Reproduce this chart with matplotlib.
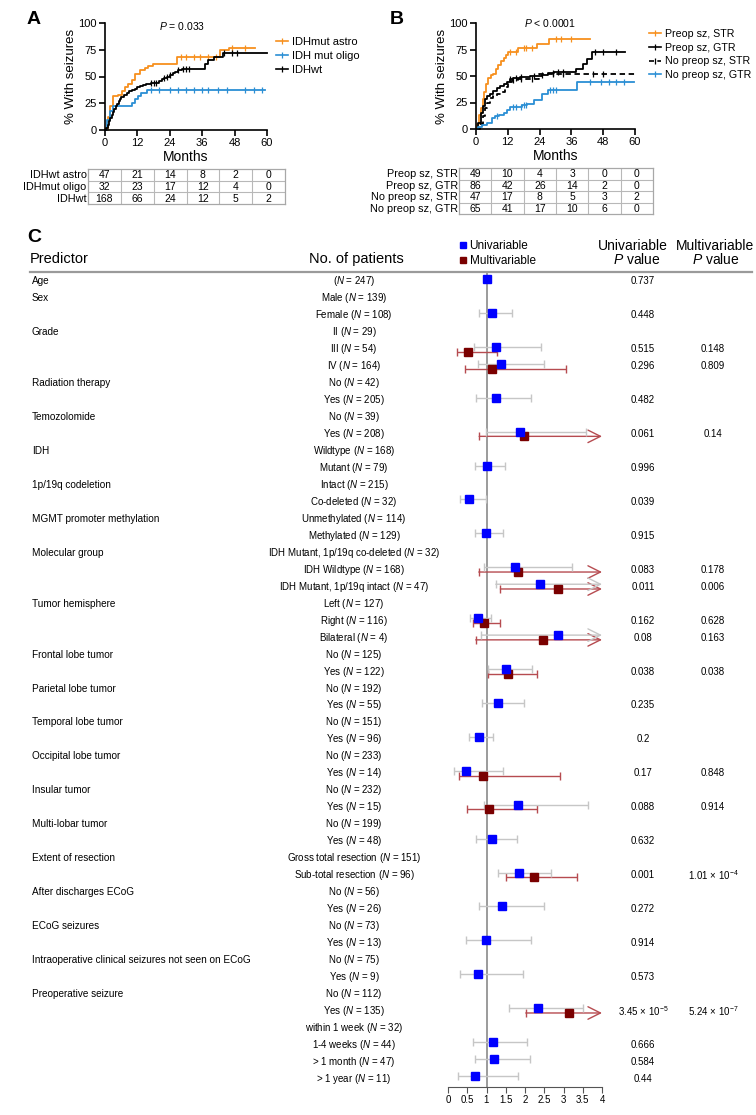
import numpy as np
import matplotlib
matplotlib.use('Agg')
import matplotlib.pyplot as plt
import matplotlib.transforms as mtransforms
from matplotlib.lines import Line2D

plt.rcParams['font.family'] = ['Liberation Sans', 'DejaVu Sans']
plt.rcParams['mathtext.fontset'] = 'custom'
plt.rcParams['mathtext.rm'] = 'Liberation Sans'
plt.rcParams['mathtext.it'] = 'Liberation Sans:italic'
plt.rcParams['mathtext.bf'] = 'Liberation Sans:bold'

# ---------------- panel A data (cumulative % with seizures, step curves) ----------------
astro_t = [0, 1.2, 1.8, 3.1, 4.9, 6.2, 7.4, 8.6, 9.9, 11.1, 12.9, 14.8, 15.8, 17.9, 26.7, 42.7, 46, 55.4]
astro_y = [0, 12, 22, 32, 33, 36, 40, 43, 47, 52, 56, 58, 60, 62, 68, 75, 76.5, 76.5]
astro_cens = [28, 30, 33, 35, 38, 41, 47, 52]

oligo_t = [0, 0.6, 1.8, 3.1, 9.9, 11.1, 12.3, 13.5, 15.4, 59.4]
oligo_y = [0, 9, 18, 22, 25.5, 29, 32, 35, 37.5, 37.5]
oligo_cens = [17, 20, 24, 27, 30, 33, 36, 38, 42, 45, 52, 55, 58]

wt_t = [0, 0.5, 1, 1.5, 2, 2.5, 3, 3.5, 4, 4.5, 5, 5.5, 6, 7, 8, 9, 10, 11, 12, 13, 14, 15, 17, 19,
        20, 21, 22, 23, 24, 25, 26, 27, 28.5, 36.9, 38, 40.4, 43.7, 60]
wt_y = [0, 2, 5, 8, 11, 14, 17, 20, 22, 24, 27, 29, 31, 33, 35, 36, 37.5, 38.5, 40, 41, 42, 43, 43.5, 44,
        46, 48, 49, 50, 51, 53, 54, 56, 57, 62, 65, 68, 72, 72]
wt_cens = [17, 18, 19, 22, 23, 24, 27, 29, 30, 31, 44, 47, 49]

a_labels = ['IDHmut astro', 'IDH mut oligo', 'IDHwt']
a_table_rows = ['IDHwt astro', 'IDHmut oligo', 'IDHwt']
a_table = [[47, 21, 14, 8, 2, 0],
           [32, 23, 17, 12, 4, 0],
           [168, 66, 24, 12, 5, 2]]

# ---------------- panel B data ----------------
pre_str_t = [0, 0.5, 1.3, 1.9, 2.5, 3.2, 3.8, 4.4, 5.7, 6.6, 7.6, 8.2, 9.5, 10.4, 11.2, 11.9, 15.8, 23, 27.4, 42.9]
pre_str_y = [0, 5, 13, 20, 28, 35, 42, 48, 51, 52, 57, 60, 64, 67, 70, 73, 76, 80, 85, 85]
pre_str_cens = [13, 15, 18, 19, 21, 30, 32, 36]

pre_gtr_t = [0, 0.9, 1.9, 2.5, 3.4, 4.0, 5.3, 6.3, 7.8, 9.1, 10.4, 11.6, 12.9, 14.1, 16.7, 20.5, 24.9, 27.0,
             29.3, 37.9, 40.4, 41.9, 43.8, 56.4]
pre_gtr_y = [0, 6, 15, 22, 28, 31, 33, 36, 39, 41, 42, 44, 47, 48, 49, 50, 51, 53, 54, 57, 61, 66, 73, 73]
pre_gtr_cens = [13, 15, 17, 22, 25, 29, 31, 33, 45, 48, 53]

np_str_t = [0, 1.5, 2.5, 3.4, 4.0, 5.3, 6.6, 7.8, 9.7, 11, 12.2, 13.5, 16, 23.6, 60]
np_str_y = [0, 5, 12, 20, 25, 29, 31, 33, 35, 40, 44, 46, 47, 52, 52]
np_str_cens = [14, 17, 21, 29, 33, 44, 48]

np_gtr_t = [0, 0.9, 2.1, 4.0, 5.9, 7.2, 8.8, 10.4, 11.6, 12.9, 17.3, 19.2, 21.7, 24.9, 27, 38.1, 59.8]
np_gtr_y = [0, 2, 4, 6, 10, 12, 13, 15, 18, 21, 23, 24, 27, 33, 37, 44, 44]
np_gtr_cens = [8, 14, 15, 17, 18, 19, 28, 29, 30, 43, 47, 50, 53, 56]

b_labels = ['Preop sz, STR', 'Preop sz, GTR', 'No preop sz, STR', 'No preop sz, GTR']
b_table = [[49, 10, 4, 3, 0, 0],
           [86, 42, 26, 14, 2, 0],
           [47, 17, 8, 5, 3, 2],
           [65, 41, 17, 10, 6, 0]]

# ---------------- panel C data (hazard ratios) ----------------
nan = np.nan
inf = np.inf
predictors = ['Age', 'Sex', '', 'Grade', '', '', 'Radiation therapy', '', 'Temozolomide', '',
              'IDH', '', '1p/19q codeletion', '', 'MGMT promoter methylation', '',
              'Molecular group', '', '', 'Tumor hemisphere', '', '',
              'Frontal lobe tumor', '', 'Parietal lobe tumor', '', 'Temporal lobe tumor', '',
              'Occipital lobe tumor', '', 'Insular tumor', '', 'Multi-lobar tumor', '',
              'Extent of resection', '', 'After discharges ECoG', '', 'ECoG seizures', '',
              'Intraoperative clinical seizures not seen on ECoG', '', 'Preoperative seizure', '',
              '', '', '', '']
levels = ['', 'Male', 'Female', 'II', 'III', 'IV', 'No', 'Yes', 'No', 'Yes',
          'Wildtype', 'Mutant', 'Intact', 'Co-deleted', 'Unmethylated', 'Methylated',
          'IDH Mutant, 1p/19q co-deleted', 'IDH Wildtype', 'IDH Mutant, 1p/19q intact',
          'Left', 'Right', 'Bilateral', 'No', 'Yes', 'No', 'Yes', 'No', 'Yes', 'No', 'Yes',
          'No', 'Yes', 'No', 'Yes', 'Gross total resection', 'Sub-total resection',
          'No', 'Yes', 'No', 'Yes', 'No', 'Yes', 'No', 'Yes',
          'within 1 week', '1-4 weeks', '> 1 month', '> 1 year']
n_patients = [247, 139, 108, 29, 54, 164, 42, 205, 39, 208, 168, 79, 215, 32, 114, 129,
              32, 168, 47, 127, 116, 4, 125, 122, 192, 55, 151, 96, 233, 14, 232, 15, 199, 48,
              151, 96, 56, 26, 73, 13, 75, 9, 112, 135, 32, 44, 47, 11]
uni_hr = [1.01, nan, 1.15, nan, 1.25, 1.37, nan, 1.24, nan, 1.88, nan, 1.01, nan, 0.545, nan, 0.99,
          nan, 1.74, 2.39, nan, 0.79, 2.85, nan, 1.50, nan, 1.31, nan, 0.80, nan, 0.47, nan, 1.83,
          nan, 1.13, nan, 1.85, nan, 1.40, nan, 0.98, nan, 0.79, nan, 2.35, nan, 1.16, 1.20, 0.70]
uni_lo = [nan, nan, 0.81, nan, 0.68, 0.78, nan, 0.72, nan, 0.98, nan, 0.70, nan, 0.31, nan, 0.69,
          nan, 0.94, 1.24, nan, 0.57, 0.87, nan, 1.03, nan, 0.875, nan, 0.55, nan, 0.16, nan, 0.935,
          nan, 0.74, nan, 1.29, nan, 0.81, nan, 0.46, nan, 0.32, nan, 1.58, nan, 0.64, 0.70, 0.27]
uni_hi = [nan, nan, 1.65, nan, 2.41, 2.49, nan, 2.15, nan, 3.58, nan, 1.49, nan, 0.99, nan, 1.44,
          nan, 3.23, inf, nan, 1.12, inf, nan, 2.17, nan, 1.97, nan, 1.16, nan, 1.44, nan, 3.63,
          nan, 1.78, nan, 2.68, nan, 2.49, nan, 2.15, nan, 1.96, nan, 3.51, nan, 2.06, 2.13, 1.83]
multi_hr = {4: 0.53, 5: 1.13, 9: 1.97, 17: 1.81, 18: 2.87, 20: 0.935, 21: 2.48, 23: 1.56,
            29: 0.91, 31: 1.06, 35: 2.23, 43: 3.13}
multi_lo = {4: 0.225, 5: 0.44, 9: 0.81, 17: 0.80, 18: 1.36, 20: 0.64, 21: 0.72, 23: 1.03,
            29: 0.29, 31: 0.50, 35: 1.51, 43: 2.02}
multi_hi = {4: 1.28, 5: 3.07, 9: inf, 17: inf, 18: inf, 20: 1.35, 21: inf, 23: 2.31,
            29: 2.92, 31: 2.31, 35: 3.36, 43: inf}
p_uni = {0: '0.737', 2: '0.448', 4: '0.515', 5: '0.296', 7: '0.482', 9: '0.061', 11: '0.996',
         13: '0.039', 15: '0.915', 17: '0.083', 18: '0.011', 20: '0.162', 21: '0.08', 23: '0.038',
         25: '0.235', 27: '0.2', 29: '0.17', 31: '0.088', 33: '0.632', 35: '0.001', 37: '0.272',
         39: '0.914', 41: '0.573', 43: r'3.45 × 10$^{-5}$', 45: '0.666', 46: '0.584', 47: '0.44'}
p_multi = {4: '0.148', 5: '0.809', 9: '0.14', 17: '0.178', 18: '0.006', 20: '0.628', 21: '0.163',
           23: '0.038', 29: '0.848', 31: '0.914', 35: r'1.01 × 10$^{-4}$', 43: r'5.24 × 10$^{-7}$'}
hr_ticks = [0, 0.5, 1, 1.5, 2, 2.5, 3, 3.5, 4]

ORANGE = '#f7901e'
LBLUE = '#2b8fd4'
GRAY_CI = '#c6c6c6'
RED_CI = '#b64b50'
RED_SQ = '#7a0000'
BLUE_SQ = '#0000ff'

W, H = 756, 1115
fig = plt.figure(figsize=(W / 100, H / 100), dpi=100)


def px_axes(x0, y0, x1, y1):
    return fig.add_axes([x0 / W, 1 - y1 / H, (x1 - x0) / W, (y1 - y0) / H])


def step_at(t, y, x):
    idx = np.searchsorted(t, x, side='right') - 1
    return np.asarray(y)[idx]


def km_panel(box, curves, labels, ptext, px, py, leg_xy, leg_fs):
    ax = px_axes(*box)
    ax.patch.set_visible(False)
    handles = []
    for (t, y, cens, color, ls) in curves:
        ax.step(t, y, where='post', color=color, lw=1.3, ls=ls, clip_on=False)
        ax.plot(cens, step_at(t, y, cens), ls='', marker='|', ms=4, mew=0.9, color=color, clip_on=False)
        handles.append(Line2D([0], [0], color=color, lw=1.2, ls=ls, marker='|', ms=4, mew=0.9))
    ax.set_xlim(0, 60)
    ax.set_ylim(0, 100)
    ax.set_xticks([0, 12, 24, 36, 48, 60])
    ax.set_yticks([0, 25, 50, 75, 100])
    for s in ['top', 'right']:
        ax.spines[s].set_visible(False)
    for s in ['left', 'bottom']:
        ax.spines[s].set_linewidth(1.2)
    ax.tick_params(width=1.2, length=4, labelsize=8, pad=2)
    ax.set_xlabel('Months', fontsize=10, labelpad=1)
    ax.set_ylabel('% With seizures', fontsize=9.5, labelpad=1)
    ax.text(px, py, ptext, fontsize=7.5, ha='center', va='center')
    fig.legend(handles, labels, loc='upper left', bbox_to_anchor=(leg_xy[0] / W, 1 - leg_xy[1] / H),
               frameon=False, fontsize=leg_fs, handlelength=1.1, handletextpad=0.35, labelspacing=0.35,
               borderpad=0, borderaxespad=0)
    return ax


def table_panel(box, row_labels, counts):
    ax = px_axes(*box)
    n = len(row_labels)
    ax.set_xlim(0, 6)
    ax.set_ylim(n, 0)
    ax.set_xticks([])
    ax.set_yticks([])
    for s in ax.spines.values():
        s.set_color('#a8a8a8')
        s.set_linewidth(0.9)
    ax.vlines(range(1, 6), 0, n, color='#b8b8b8', lw=0.8)
    ax.hlines(range(1, n), 0, 6, color='#b8b8b8', lw=0.8)
    for r, (lab, row) in enumerate(zip(row_labels, counts)):
        ax.text(-0.04, r + 0.55, lab, ha='right', va='center', fontsize=7.8)
        for c, v in enumerate(row):
            ax.text(c + 0.5, r + 0.55, str(v), ha='center', va='center', fontsize=7.5)


# ---------------- A ----------------
km_panel((105, 23, 267, 130),
         [(astro_t, astro_y, astro_cens, ORANGE, '-'),
          (oligo_t, oligo_y, oligo_cens, LBLUE, '-'),
          (wt_t, wt_y, wt_cens, 'black', '-')],
         a_labels, '$P$ = 0.033', 28.5, 97, (276, 37), 8)
table_panel((88, 169, 285, 204), a_table_rows, a_table)

# ---------------- B ----------------
km_panel((476, 23, 635, 129),
         [(pre_str_t, pre_str_y, pre_str_cens, ORANGE, '-'),
          (pre_gtr_t, pre_gtr_y, pre_gtr_cens, 'black', '-'),
          (np_str_t, np_str_y, np_str_cens, 'black', (0, (3, 2))),
          (np_gtr_t, np_gtr_y, np_gtr_cens, LBLUE, '-')],
         b_labels, '$P$ < 0.0001', 28, 100, (649, 29), 7.7)
table_panel((459, 168, 653, 214), b_labels, b_table)

# ---------------- C ----------------
row0, rstep = 281.5, 16.96
fy0, fy1 = 273, 1087
fax = px_axes(448, fy0, 602, fy1)
fax.patch.set_visible(False)
fax.set_xlim(0, 4)
fax.set_ylim((fy1 - row0) / rstep, (fy0 - row0) / rstep)
for s in ['top', 'right', 'left']:
    fax.spines[s].set_visible(False)
fax.spines['bottom'].set_color('#555555')
fax.set_yticks([])
fax.set_xticks(hr_ticks)
fax.set_xticklabels([f'{v:g}' for v in hr_ticks])
fax.tick_params(axis='x', labelsize=7, length=4, color='#555555', pad=2)
fax.axvline(1, color='#8a8a8a', lw=1.2, zorder=1)


def draw_ci(y, hr, lo, hi, color):
    if np.isnan(lo):
        return
    if np.isinf(hi):
        fax.annotate('', xy=(4, y), xytext=(lo, y),
                     arrowprops=dict(arrowstyle='->,head_length=0.9,head_width=0.45', color=color,
                                     lw=1, shrinkA=0, shrinkB=0, mutation_scale=10), zorder=2)
        fax.plot(lo, y, marker='|', ms=6, mew=1, color=color, zorder=2)
    else:
        fax.errorbar(hr, y, xerr=[[hr - lo], [hi - hr]], fmt='none', ecolor=color,
                     elinewidth=1, capsize=3, capthick=1, zorder=2)


for i in range(len(levels)):
    if i in multi_hr:
        yr = i + 0.13
        draw_ci(yr, multi_hr[i], multi_lo[i], multi_hi[i], RED_CI)
        fax.plot(multi_hr[i], yr, marker='s', ms=6, color=RED_SQ, ls='', zorder=4)
    if not np.isnan(uni_hr[i]):
        yb = i - 0.15
        draw_ci(yb, uni_hr[i], uni_lo[i], uni_hi[i], GRAY_CI)
        fax.plot(uni_hr[i], yb, marker='s', ms=6, color=BLUE_SQ, ls='', zorder=5)

lay = px_axes(0, 0, W, H)
lay.set_xlim(0, W)
lay.set_ylim(H, 0)
lay.axis('off')
tr = mtransforms.blended_transform_factory(lay.transData, fax.transData)

for i, (pred, lev, n) in enumerate(zip(predictors, levels, n_patients)):
    if pred:
        lay.text(32, i, pred, transform=tr, fontsize=7.2, va='center', ha='left')
    lab = (lev + ' ' if lev else '') + f'($N$ = {n})'
    lay.text(354, i, lab, transform=tr, fontsize=7, va='center', ha='center')
    if i in p_uni:
        lay.text(643, i, p_uni[i], transform=tr, fontsize=7, va='center', ha='center')
    if i in p_multi:
        lay.text(713, i, p_multi[i], transform=tr, fontsize=7, va='center', ha='center')

# header
lay.text(27, 20, 'A', fontsize=14, fontweight='bold', va='center')
lay.text(390, 20, 'B', fontsize=14, fontweight='bold', va='center')
lay.text(27, 237, 'C', fontsize=14, fontweight='bold', va='center')
lay.text(30, 259, 'Predictor', fontsize=10.5, va='center')
lay.text(356, 259, 'No. of patients', fontsize=10.5, va='center', ha='center')
lay.text(633, 246, 'Univariable', fontsize=10, va='center', ha='center')
lay.text(637, 260, '$P$ value', fontsize=10, va='center', ha='center')
lay.text(715, 246, 'Multivariable', fontsize=10, va='center', ha='center')
lay.text(716, 260, '$P$ value', fontsize=10, va='center', ha='center')
lay.plot([30, 752], [272, 272], color='#9a9a9a', lw=1.6)
lay.legend([Line2D([0], [0], ls='', marker='s', ms=5, color=BLUE_SQ),
            Line2D([0], [0], ls='', marker='s', ms=5, color=RED_SQ)],
           ['Univariable', 'Multivariable'], loc='upper left',
           bbox_to_anchor=(459 / W, 1 - 240 / H), bbox_transform=fig.transFigure,
           frameon=False, fontsize=8.5, handlelength=0.6, handletextpad=0.3, labelspacing=0.25,
           borderpad=0, borderaxespad=0)

fig.savefig('out.png', dpi=100)
